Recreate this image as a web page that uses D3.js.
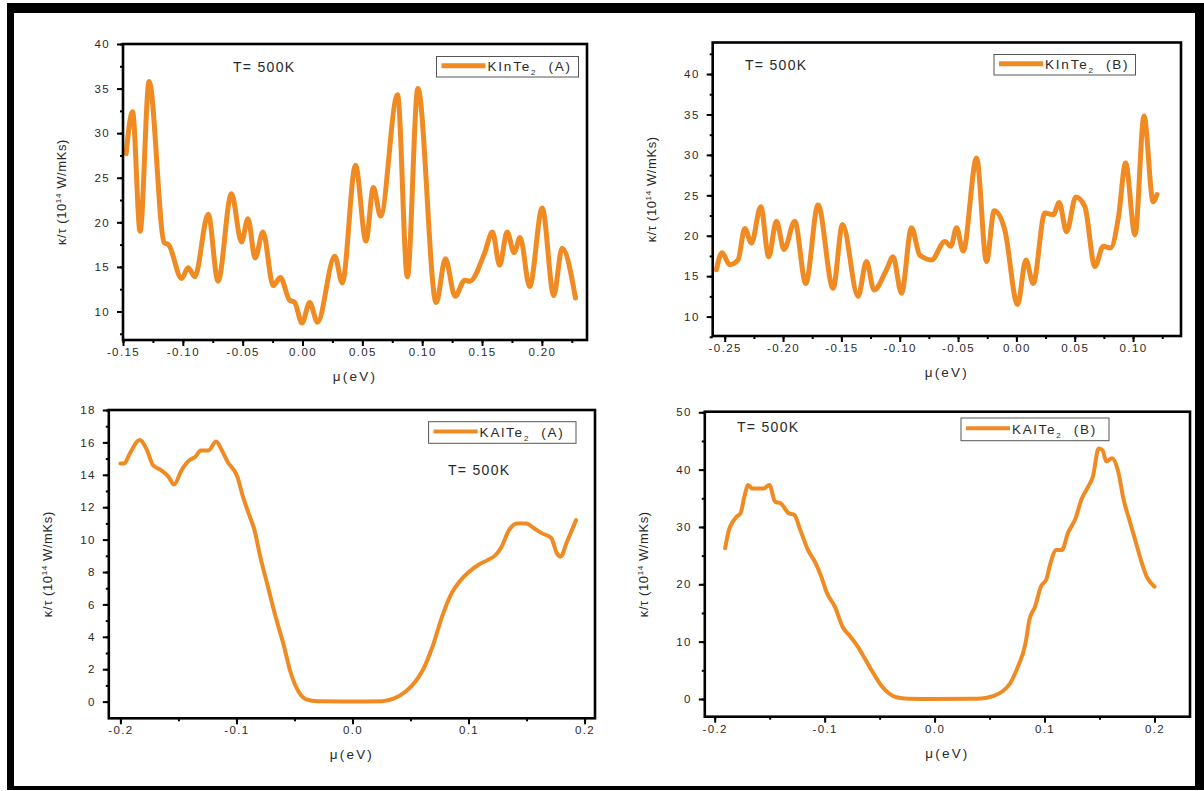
<!DOCTYPE html>
<html>
<head>
<meta charset="utf-8">
<script src="https://cdn.jsdelivr.net/npm/d3@7"></script>
<style>
  body { margin: 0; background: #fff; }
  svg { display: block; font-family: "Liberation Sans", Arial, sans-serif; }
</style>
</head>
<body>
<svg id="chart" width="1204" height="791"></svg>
<script>
// ---- data: chemical potential mu (eV) vs kappa/tau (1e14 W/mKs) ----

// KInTe2 (A)
const kinteA_mu = [-0.1474, -0.1420, -0.1357, -0.1282, -0.1155, -0.1120, -0.1010, -0.0956, -0.0900,
  -0.0788, -0.0706, -0.0594, -0.0510, -0.0456, -0.0396, -0.0330, -0.0245, -0.0185, -0.0110, -0.0065,
  -0.0005, 0.0060, 0.0125, 0.0270, 0.0332, 0.0443, 0.0530, 0.0592, 0.0652, 0.0794, 0.0876, 0.0964,
  0.1117, 0.1194, 0.1275, 0.1355, 0.1398, 0.1520, 0.1587, 0.1647, 0.1710, 0.1768, 0.1818, 0.1898,
  0.2003, 0.2099, 0.2169, 0.2281];
const kinteA_kappa = [27.7, 32.4, 19.0, 35.8, 17.7, 17.5, 13.7, 14.9, 13.9,
  20.9, 13.4, 23.2, 17.8, 20.4, 16.0, 18.9, 12.9, 13.8, 11.3, 11.0,
  8.7, 11.0, 8.8, 16.2, 13.2, 26.4, 17.9, 23.9, 20.7, 34.3, 13.9, 35.0,
  11.0, 15.9, 11.7, 13.5, 13.4, 16.5, 18.9, 15.2, 18.9, 16.6, 18.3, 12.8,
  21.6, 11.8, 17.1, 11.5];

// KInTe2 (B)
const kinteB_mu = [-0.2571, -0.2523, -0.2457, -0.2386, -0.2328, -0.2271, -0.2191, -0.2123, -0.2057,
  -0.1991, -0.1900, -0.1805, -0.1700, -0.1571, -0.1490, -0.1357, -0.1285, -0.1220, -0.1113, -0.1057,
  -0.0985, -0.0899, -0.0828, -0.0727, -0.0613, -0.0562, -0.0513, -0.0456, -0.0341, -0.0256, -0.0190,
  -0.0099, 0.0010, 0.0082, 0.0144, 0.0244, 0.0316, 0.0367, 0.0430, 0.0510, 0.0587, 0.0673, 0.0744,
  0.0808, 0.0876, 0.0936, 0.1017, 0.1094, 0.1172, 0.1205];
const kinteB_kappa = [15.8, 17.9, 16.4, 17.0, 20.9, 19.1, 23.6, 17.4, 21.8,
  18.3, 21.8, 14.1, 23.8, 13.5, 21.4, 12.5, 16.8, 13.3, 15.8, 17.4,
  12.9, 21.0, 17.6, 17.0, 19.3, 18.7, 21.0, 18.1, 29.6, 16.8, 23.1,
  20.7, 11.5, 17.0, 14.1, 22.8, 22.6, 24.1, 20.5, 24.8, 23.6, 16.2, 18.7,
  18.5, 22.4, 29.0, 20.1, 34.8, 24.2, 25.1];

// KAlTe2 (A)
const kalteA_mu = [-0.2000, -0.1967, -0.1920, -0.1835, -0.1769, -0.1720, -0.1653, -0.1587, -0.1538,
  -0.1472, -0.1406, -0.1356, -0.1307, -0.1241, -0.1175, -0.1125, -0.1076, -0.0993, -0.0944, -0.0894,
  -0.0845, -0.0795, -0.0729, -0.0663, -0.0597, -0.0531, -0.0465, -0.0399, -0.0300, 0.0000, 0.0260,
  0.0360, 0.0459, 0.0541, 0.0607, 0.0690, 0.0772, 0.0855, 0.0921, 0.1003, 0.1086, 0.1168, 0.1234,
  0.1284, 0.1350, 0.1416, 0.1498, 0.1564, 0.1630, 0.1713, 0.1762, 0.1795, 0.1845, 0.1927];
const kalteA_kappa = [14.7, 14.7, 15.3, 16.15, 15.5, 14.6, 14.3, 13.9, 13.4,
  14.3, 14.9, 15.1, 15.5, 15.5, 16.05, 15.5, 14.8, 13.9, 12.65, 11.6,
  10.6, 8.95, 7.1, 5.25, 3.6, 1.75, 0.62, 0.14, 0.02, 0.0, 0.03,
  0.2, 0.62, 1.23, 1.95, 3.4, 5.25, 6.7, 7.4, 8.0, 8.45, 8.75, 9.05,
  9.55, 10.6, 11.0, 11.0, 10.7, 10.4, 10.1, 9.15, 8.95, 9.8, 11.2];

// KAlTe2 (B)
const kalteB_mu = [-0.1905, -0.1870, -0.1835, -0.1800, -0.1765, -0.1730, -0.1695, -0.1660, -0.1608,
  -0.1555, -0.1503, -0.1450, -0.1398, -0.1327, -0.1275, -0.1222, -0.1152, -0.1082, -0.1030, -0.0977,
  -0.0907, -0.0837, -0.0767, -0.0697, -0.0627, -0.0557, -0.0487, -0.0417, -0.0347, -0.0242, 0.0000,
  0.0320, 0.0424, 0.0529, 0.0616, 0.0686, 0.0757, 0.0827, 0.0862, 0.0914, 0.0967, 0.1019, 0.1054,
  0.1107, 0.1159, 0.1212, 0.1282, 0.1334, 0.1387, 0.1440, 0.1492, 0.1527, 0.1562, 0.1615, 0.1667,
  0.1720, 0.1772, 0.1825, 0.1877, 0.1930, 0.2000];
const kalteB_kappa = [26.3, 29.5, 30.9, 31.8, 32.4, 35.3, 37.3, 36.7, 36.7,
  36.7, 37.3, 34.4, 34.1, 32.4, 32.1, 29.5, 26.0, 23.7, 21.3, 18.4,
  16.1, 12.6, 10.9, 9.1, 6.8, 4.5, 2.4, 1.0, 0.3, 0.05, 0.0,
  0.05, 0.1, 0.5, 1.3, 2.7, 5.6, 9.7, 13.8, 16.1, 19.6, 21.0, 23.7,
  26.0, 26.0, 28.9, 31.5, 34.7, 36.7, 38.8, 43.7, 43.4, 41.4, 42.0, 39.9,
  34.7, 31.2, 27.7, 24.2, 21.3, 19.6];

// tick labels
const xTicksKinA = [-0.15, -0.10, -0.05, 0.00, 0.05, 0.10, 0.15, 0.20];
const yTicksKinA = [10, 15, 20, 25, 30, 35, 40];
const xTicksKinB = [-0.25, -0.20, -0.15, -0.10, -0.05, 0.00, 0.05, 0.10];
const yTicksKinB = [10, 15, 20, 25, 30, 35, 40];
const xTicksKal = [-0.2, -0.1, 0.0, 0.1, 0.2];
const yTicksKalA = [0, 2, 4, 6, 8, 10, 12, 14, 16, 18];
const yTicksKalB = [0, 10, 20, 30, 40, 50];

const LINE_COLOR = '#ef8b22';
const TEXT_COLOR = '#2a2a2a';

const svg = d3.select('#chart');

// outer black frame of the figure
svg.append('rect').attr('x', 0).attr('y', 0).attr('width', 1204).attr('height', 791).attr('fill', '#fff');
svg.append('rect').attr('x', 7).attr('y', 3).attr('width', 7).attr('height', 787).attr('fill', '#000');
svg.append('rect').attr('x', 7).attr('y', 3).attr('width', 1197).attr('height', 10).attr('fill', '#000');
svg.append('rect').attr('x', 1195).attr('y', 3).attr('width', 9).attr('height', 787).attr('fill', '#000');
svg.append('rect').attr('x', 7).attr('y', 786).attr('width', 1197).attr('height', 4).attr('fill', '#000');

const panels = [
  {
    mu: kinteA_mu, kappa: kinteA_kappa, label: 'KInTe', tag: '(A)',
    left: 123, top: 44, right: 587, bottom: 340,
    xDomain: [-0.15, 0.2377], yDomain: [6.8, 40],
    xTicks: xTicksKinA, yTicks: yTicksKinA, fmt: d => d.toFixed(2),
    xMinor: d3.range(-0.15, 0.23, 0.025), yMinor: d3.range(7.5, 40.01, 2.5),
    temp: [233, 72], legend: { x: 436.5, y: 56.5, w: 142, h: 20.5 }, lw: 5
  },
  {
    mu: kinteB_mu, kappa: kinteB_kappa, label: 'KInTe', tag: '(B)',
    left: 712.7, top: 42.5, right: 1181, bottom: 336,
    xDomain: [-0.2603, 0.1411], yDomain: [7.6, 43.9],
    xTicks: xTicksKinB, yTicks: yTicksKinB, fmt: d => d.toFixed(2),
    xMinor: d3.range(-0.25, 0.13, 0.025), yMinor: d3.range(7.5, 43.9, 2.5),
    temp: [745, 70], legend: { x: 994, y: 54.5, w: 141.5, h: 20.5 }, lw: 5
  },
  {
    mu: kalteA_mu, kappa: kalteA_kappa, label: 'KAlTe', tag: '(A)',
    left: 108.8, top: 410, right: 595, bottom: 718.3,
    xDomain: [-0.21, 0.209], yDomain: [-1.03, 18],
    xTicks: xTicksKal, yTicks: yTicksKalA, fmt: d => d.toFixed(1),
    xMinor: d3.range(-0.2, 0.201, 0.05), yMinor: d3.range(0, 18.01, 1),
    temp: [448, 475], legend: { x: 428.6, y: 421.7, w: 147.4, h: 21.6 }, lw: 4
  },
  {
    mu: kalteB_mu, kappa: kalteB_kappa, label: 'KAlTe', tag: '(B)',
    left: 704.8, top: 411.7, right: 1190, bottom: 716.7,
    xDomain: [-0.209, 0.2323], yDomain: [-3.09, 50.1],
    xTicks: xTicksKal, yTicks: yTicksKalB, fmt: d => d.toFixed(1),
    xMinor: d3.range(-0.2, 0.201, 0.05), yMinor: d3.range(0, 50.01, 5),
    temp: [737, 432], legend: { x: 961, y: 418, w: 148, h: 22.7 }, lw: 4
  }
];

function styleAxis(sel) {
  sel.select('.domain').remove();
  sel.selectAll('.tick line').attr('stroke', '#000').attr('stroke-width', 2);
  sel.selectAll('.tick text')
    .attr('fill', TEXT_COLOR)
    .style('font-size', '11.5px')
    .style('letter-spacing', '1.4px');
}

function drawPanel(p) {
  const g = svg.append('g');
  const x = d3.scaleLinear().domain(p.xDomain).range([p.left, p.right]);
  const y = d3.scaleLinear().domain(p.yDomain).range([p.bottom, p.top]);

  // minor ticks
  g.append('g').attr('transform', `translate(0,${p.bottom})`)
    .call(d3.axisBottom(x).tickValues(p.xMinor).tickSize(3).tickFormat(''))
    .call(styleAxis);
  g.append('g').attr('transform', `translate(${p.left},0)`)
    .call(d3.axisLeft(y).tickValues(p.yMinor).tickSize(3).tickFormat(''))
    .call(styleAxis);

  // major ticks
  g.append('g').attr('transform', `translate(0,${p.bottom})`)
    .call(d3.axisBottom(x).tickValues(p.xTicks).tickSize(6).tickPadding(2).tickFormat(p.fmt))
    .call(styleAxis);
  g.append('g').attr('transform', `translate(${p.left},0)`)
    .call(d3.axisLeft(y).tickValues(p.yTicks).tickSize(6).tickPadding(7).tickFormat(d3.format('d')))
    .call(styleAxis);

  // curve
  const line = d3.line()
    .x((d, i) => x(p.mu[i]))
    .y(d => y(d))
    .curve(d3.curveMonotoneX);
  g.append('path')
    .datum(p.kappa)
    .attr('fill', 'none')
    .attr('stroke', LINE_COLOR)
    .attr('stroke-width', p.lw)
    .attr('stroke-linejoin', 'round')
    .attr('stroke-linecap', 'round')
    .attr('d', line);

  // plot frame
  g.append('rect')
    .attr('x', p.left).attr('y', p.top)
    .attr('width', p.right - p.left).attr('height', p.bottom - p.top)
    .attr('fill', 'none').attr('stroke', '#000').attr('stroke-width', 2.6);

  // axis titles
  g.append('text')
    .attr('x', (p.left + p.right) / 2)
    .attr('y', p.bottom + 41)
    .attr('text-anchor', 'middle')
    .attr('fill', TEXT_COLOR)
    .style('font-size', '13.5px')
    .style('letter-spacing', '2.2px')
    .text('μ(eV)');

  const yt = g.append('text')
    .attr('transform', `translate(${p.left - 57},${(p.top + p.bottom) / 2}) rotate(-90)`)
    .attr('text-anchor', 'middle')
    .attr('fill', TEXT_COLOR)
    .style('font-size', '13px')
    .style('letter-spacing', '0.6px');
  yt.append('tspan').text('κ/τ (10');
  yt.append('tspan').attr('dy', -5).style('font-size', '8px').text('14');
  yt.append('tspan').attr('dy', 5).text(' W/mKs)');

  // temperature note
  g.append('text')
    .attr('x', p.temp[0]).attr('y', p.temp[1])
    .attr('fill', TEXT_COLOR)
    .style('font-size', '14px')
    .style('letter-spacing', '1.3px')
    .text('T= 500K');

  // legend
  const L = p.legend;
  g.append('rect')
    .attr('x', L.x).attr('y', L.y).attr('width', L.w).attr('height', L.h)
    .attr('fill', '#fff').attr('stroke', '#555').attr('stroke-width', 1);
  const cy = L.y + L.h / 2;
  g.append('line')
    .attr('x1', L.x + 5).attr('x2', L.x + 49)
    .attr('y1', cy - 1).attr('y2', cy - 1)
    .attr('stroke', LINE_COLOR).attr('stroke-width', p.lw);
  const lt = g.append('text')
    .attr('x', L.x + 51).attr('y', cy + 4.5)
    .attr('fill', TEXT_COLOR)
    .style('font-size', '13.5px')
    .style('letter-spacing', '1.8px');
  lt.append('tspan').text(p.label);
  lt.append('tspan').attr('dy', 4).style('font-size', '8px').text('2');
  lt.append('tspan').attr('dy', -4).text('  ' + p.tag).attr('xml:space', 'preserve');
}

panels.forEach(drawPanel);
</script>
</body>
</html>
